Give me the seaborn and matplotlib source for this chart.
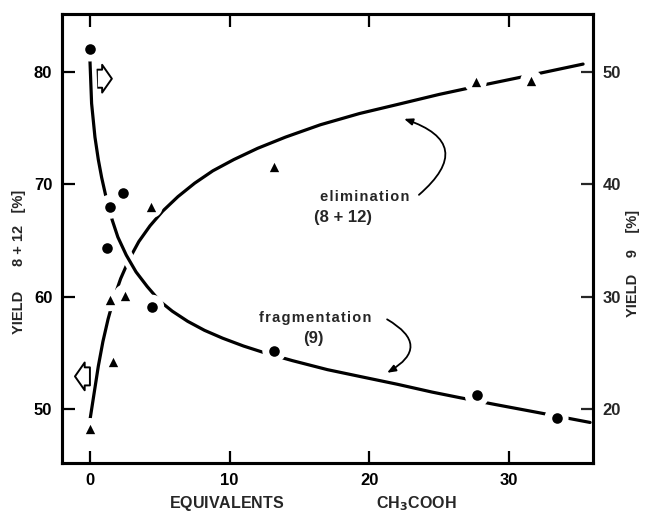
import pandas as pd
import seaborn as sns
import matplotlib.pyplot as plt
import matplotlib.patheffects as pe

# measured points, elimination (8 + 12) -> left axis
elim_x = [0, 1.43, 1.65, 2.5, 4.4, 13.2, 27.6, 31.6]
elim_y = [48.2, 59.7, 54.2, 60.1, 68.0, 71.5, 79.1, 79.2]

# measured points, fragmentation (9) -> right axis
frag_x = [0, 1.24, 1.43, 2.36, 4.45, 13.2, 27.7, 33.4]
frag_y = [52.0, 34.3, 38.0, 39.2, 29.1, 25.2, 21.2, 19.2]

# hand drawn trend curves
elim_curve_x = [0, 0.3, 0.6, 0.93, 1.3, 1.7, 2.2, 2.8, 3.5, 4.3, 5.2, 6.3, 7.5, 8.8,
                10.3, 12.0, 14.0, 16.5, 19.3, 22, 25, 28, 31.5, 35.3]
elim_curve_y = [49.0, 51.4, 53.8, 56.0, 58.0, 59.8, 61.6, 63.3, 64.9, 66.3, 67.6, 68.9, 70.1, 71.2,
                72.2, 73.2, 74.2, 75.3, 76.3, 77.1, 78.0, 78.8, 79.7, 80.7]

frag_curve_x = [0, 0.12, 0.36, 0.6, 0.84, 1.2, 1.6, 2.0, 2.6, 3.3, 4.1, 5.0, 5.9, 7.0,
                8.2, 9.5, 11.0, 12.5, 14.5, 17, 19.3, 22, 24.5, 26.5, 29, 32, 35.8]
frag_curve_y = [51.1, 47.2, 44.2, 42.2, 40.6, 38.6, 36.8, 35.3, 33.7, 32.2, 30.9, 29.6, 28.7, 27.8,
                27.0, 26.3, 25.6, 25.0, 24.3, 23.5, 22.9, 22.2, 21.5, 21.0, 20.4, 19.7, 18.8]

x_ticks = [0, 10, 20, 30]
left_ticks = [50, 60, 70, 80]
right_ticks = [20, 30, 40, 50]

sns.set_style('ticks')
plt.rcParams['font.family'] = ['Liberation Sans', 'DejaVu Sans']
plt.rcParams['font.weight'] = 'bold'

elim_pts = pd.DataFrame({'x': elim_x, 'y': elim_y})
frag_pts = pd.DataFrame({'x': frag_x, 'y': frag_y})
elim_curve = pd.DataFrame({'x': elim_curve_x, 'y': elim_curve_y})
frag_curve = pd.DataFrame({'x': frag_curve_x, 'y': frag_curve_y})

fig = plt.figure(figsize=(6.49, 5.12), dpi=100)
ax = fig.add_axes([0.0955, 0.0957, 0.818, 0.877])
ax2 = ax.twinx()

# elimination on the left axis
sns.lineplot(data=elim_curve, x='x', y='y', ax=ax, color='black', lw=2.3,
             sort=False, estimator=None, zorder=2)
sns.scatterplot(data=elim_pts, x='x', y='y', ax=ax, marker='o', s=260, color='white',
                edgecolor='none', linewidth=0, zorder=3)
sns.scatterplot(data=elim_pts, x='x', y='y', ax=ax, marker='^', s=45, color='black',
                edgecolor='black', linewidth=0, zorder=4)

# fragmentation on the right axis (white stroke cuts the other curve)
sns.lineplot(data=frag_curve, x='x', y='y', ax=ax2, color='black', lw=2.3,
             sort=False, estimator=None, zorder=2,
             path_effects=[pe.Stroke(linewidth=9, foreground='white'), pe.Normal()])
sns.scatterplot(data=frag_pts, x='x', y='y', ax=ax2, marker='o', s=300, color='white',
                edgecolor='none', linewidth=0, zorder=3)
sns.scatterplot(data=frag_pts, x='x', y='y', ax=ax2, marker='o', s=58, color='black',
                edgecolor='black', linewidth=0, zorder=4)

ax.set_xlim(-2.0, 36.0)
ax.set_ylim(45.19, 85.16)
ax2.set_ylim(15.19, 55.16)

ax.set_xticks(x_ticks)
ax.set_yticks(left_ticks)
ax2.set_yticks(right_ticks)

for a in (ax, ax2):
    for s in a.spines.values():
        s.set_linewidth(2.2)
        s.set_color('black')
ax.tick_params(axis='both', direction='in', length=9, width=1.6, labelsize=12,
               top=True, pad=7, colors='black')
ax2.tick_params(axis='y', direction='in', length=9, width=1.6, labelsize=12, pad=7)

ax.set_xlabel('EQUIVALENTS' + ' ' * 21 + 'CH$_\\mathbf{3}$COOH', fontsize=11.5,
              fontweight='bold')
ax.xaxis.set_label_coords(0.473, -0.068)
ax.set_ylabel('YIELD      8 + 12   [%]', fontsize=10.5, fontweight='bold')
ax.yaxis.set_label_coords(-0.068, 0.447)
ax2.set_ylabel('YIELD    9    [%]', fontsize=10.5, fontweight='bold')
ax2.yaxis.set_label_coords(1.062, 0.445)

# open arrows telling which axis belongs to which curve
arrow_style = 'simple,head_length=0.7,head_width=2.0,tail_width=1.3'
ax.annotate('', xy=(1.57, 79.4), xytext=(0.5, 79.4),
            arrowprops=dict(arrowstyle=arrow_style, fc='white', ec='black', lw=1.4,
                            shrinkA=0, shrinkB=0))
ax.annotate('', xy=(-1.07, 52.9), xytext=(0.0, 52.9),
            arrowprops=dict(arrowstyle=arrow_style, fc='white', ec='black', lw=1.4,
                            shrinkA=0, shrinkB=0))

# curve labels
hs = '\u200a'
ax.text(19.7, 68.9, hs.join('elimination'), ha='center', va='center', fontsize=10.5)
ax.text(18.1, 67.0, '(8 + 12)', ha='center', va='center', fontsize=12)
ax.annotate('', xy=(22.3, 75.9), xytext=(23.4, 68.9),
            arrowprops=dict(arrowstyle='-|>,head_length=0.5,head_width=0.2', color='black',
                            lw=1.3, connectionstyle='arc3,rad=0.9'))
ax2.text(16.1, 28.1, hs.join('fragmentation'), ha='center', va='center', fontsize=10.5)
ax2.text(16.0, 26.3, '(9)', ha='center', va='center', fontsize=12)
ax2.annotate('', xy=(21.1, 23.1), xytext=(21.1, 28.1),
             arrowprops=dict(arrowstyle='-|>,head_length=0.5,head_width=0.2', color='black',
                             lw=1.3, connectionstyle='arc3,rad=-0.9'))

plt.savefig('out.png', dpi=100)
plt.close()
